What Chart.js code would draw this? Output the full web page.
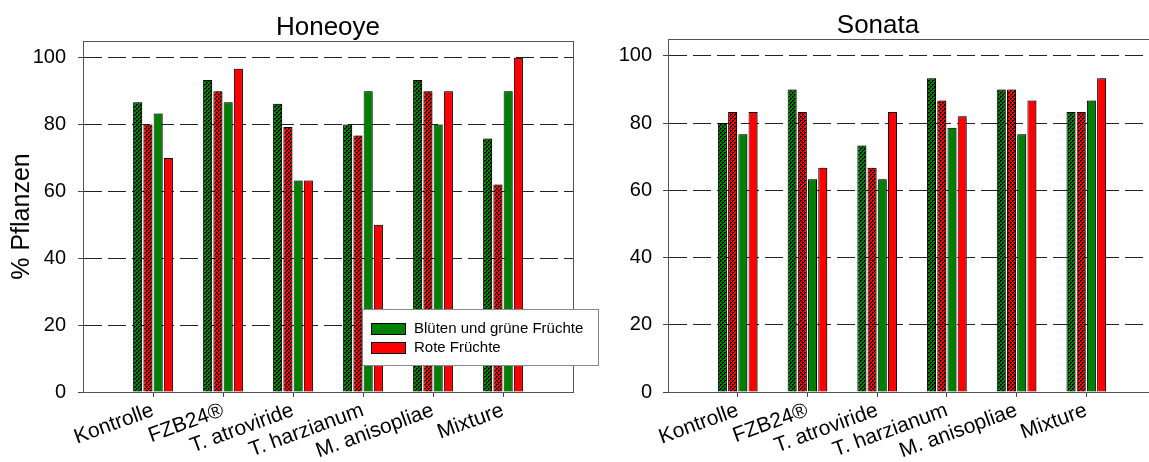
<!DOCTYPE html>
<html>
<head>
<meta charset="utf-8">
<script src="https://cdn.jsdelivr.net/npm/chart.js@4.4.0/dist/chart.umd.min.js"></script>
<style>
  body { margin: 0; background: #fff; width: 1149px; height: 462px; overflow: hidden; position: relative; }
  #honeoye { position: absolute; left: 0; top: 0; }
  #sonata { position: absolute; left: 600px; top: 0; }
</style>
</head>
<body>
<canvas id="honeoye" width="600" height="462"></canvas>
<canvas id="sonata" width="570" height="462"></canvas>
<script>
const categories = ['Kontrolle', 'FZB24®', 'T. atroviride', 'T. harzianum', 'M. anisopliae', 'Mixture'];
const seriesNames = ['Blüten und grüne Früchte', 'Rote Früchte'];
const yTicks = [0, 20, 40, 60, 80, 100];

// Honeoye (hatched = first bar pair, solid = second bar pair)
const honeoyeGreenHatched = [86.7, 93.3, 86.2, 80.0, 93.3, 75.8];
const honeoyeRedHatched   = [80.0, 90.0, 79.3, 76.7, 90.0, 62.1];
const honeoyeGreen        = [83.3, 86.7, 63.3, 90.0, 80.0, 90.0];
const honeoyeRed          = [70.0, 96.7, 63.3, 50.0, 90.0, 100.0];

// Sonata
const sonataGreenHatched = [80.0, 90.0, 73.3, 93.3, 90.0, 83.3];
const sonataRedHatched   = [83.3, 83.3, 66.7, 86.7, 90.0, 83.3];
const sonataGreen        = [76.7, 63.3, 63.3, 78.6, 76.7, 86.7];
const sonataRed          = [83.3, 66.7, 83.3, 82.0, 86.7, 93.3];

const labels = [''].concat(categories, ['']);
const pad = arr => [null].concat(arr, [null]);

Chart.defaults.font.family = "Arial, 'Liberation Sans', sans-serif";
Chart.defaults.color = '#000';

function checker(color) {
  const c = document.createElement('canvas');
  c.width = 4; c.height = 4;
  const g = c.getContext('2d');
  g.fillStyle = color;
  g.fillRect(0, 0, 4, 4);
  g.fillStyle = '#000';
  g.fillRect(0, 0, 2, 1); g.fillRect(0, 1, 1, 1);
  g.fillRect(2, 2, 2, 1); g.fillRect(2, 3, 1, 1);
  return g.createPattern(c, 'repeat');
}

const GREEN = '#008000';
const RED = '#ff0000';

const barShadow = {
  id: 'barShadow',
  beforeDatasetsDraw(chart) {
    const ctx = chart.ctx;
    ctx.save();
    ctx.shadowColor = 'rgba(0,0,0,0.4)';
    ctx.shadowOffsetX = 2;
    ctx.shadowOffsetY = 0;
    ctx.shadowBlur = 0;
  },
  afterDatasetsDraw(chart) {
    chart.ctx.restore();
  }
};

const frame = {
  id: 'frame',
  afterDraw(chart) {
    const { ctx, chartArea: a } = chart;
    ctx.save();
    ctx.strokeStyle = '#555';
    ctx.lineWidth = 1;
    ctx.strokeRect(Math.round(a.left) + 0.5, Math.round(a.top) + 0.5,
      Math.round(a.right - a.left), Math.round(a.bottom - a.top));
    ctx.restore();
  }
};

const boxLegend = {
  id: 'boxLegend',
  afterDraw(chart, args, o) {
    if (!o.show) return;
    const ctx = chart.ctx;
    ctx.save();
    ctx.fillStyle = '#fff';
    ctx.fillRect(o.x, o.y, o.w, o.h);
    ctx.strokeStyle = '#888';
    ctx.strokeRect(o.x + 0.5, o.y + 0.5, o.w, o.h);
    const items = chart.data.datasets.filter(d => d.inLegend);
    ctx.font = "15px Arial, 'Liberation Sans', sans-serif";
    ctx.textBaseline = 'middle';
    items.forEach((d, i) => {
      const sy = o.y + 14 + i * 19;
      ctx.fillStyle = d.backgroundColor;
      ctx.fillRect(o.x + 9, sy, 34, 11);
      ctx.strokeStyle = '#000';
      ctx.strokeRect(o.x + 9.5, sy + 0.5, 34, 11);
      ctx.fillStyle = '#000';
      ctx.fillText(d.label, o.x + 52, sy + 6);
    });
    ctx.restore();
  }
};

function makePanel(canvas, title, values, cfg) {
  const fills = [checker(GREEN), checker(RED), GREEN, RED];
  const names = [seriesNames[0] + ' ', seriesNames[1] + ' ', seriesNames[0], seriesNames[1]];
  const datasets = values.map((v, i) => ({
    label: names[i],
    data: pad(v),
    backgroundColor: fills[i],
    borderColor: '#000',
    borderWidth: 1,
    categoryPercentage: 0.586,
    barPercentage: 0.88,
    inLegend: i >= 2
  }));

  return new Chart(document.getElementById(canvas), {
    type: 'bar',
    data: { labels: labels, datasets: datasets },
    options: {
      responsive: false,
      animation: false,
      layout: { padding: { left: 0, right: cfg.padRight, top: 0, bottom: 0 } },
      plugins: {
        legend: { display: false },
        tooltip: { enabled: false },
        title: {
          display: true,
          text: title,
          fullSize: cfg.titleFull,
          color: '#000',
          font: { size: 26, weight: 'normal', lineHeight: 1 },
          padding: { top: cfg.titleTop, bottom: 0 }
        },
        boxLegend: cfg.legend
      },
      scales: {
        x: {
          type: 'category',
          offset: false,
          grid: {
            offset: false,
            drawOnChartArea: false,
            tickLength: 5,
            tickColor: c => (c.index === 0 || c.index === labels.length - 1) ? 'rgba(0,0,0,0)' : '#444'
          },
          border: { color: '#555' },
          ticks: { autoSkip: false, minRotation: 20, maxRotation: 20, padding: 1, font: { size: 21 }, color: '#000' },
          afterFit: s => { s.height = 70; }
        },
        y: {
          min: 0,
          max: 105,
          afterBuildTicks: s => { s.ticks = yTicks.map(v => ({ value: v })); },
          afterFit: s => { s.width = cfg.yWidth; },
          grid: { color: '#222', tickLength: 5, tickColor: '#444', tickBorderDash: [] },
          border: { color: '#555', dash: [18, 6] },
          ticks: { padding: cfg.tickPad, font: { size: 20 }, color: '#000' },
          title: {
            display: cfg.yTitle,
            text: '% Pflanzen',
            color: '#000',
            font: { size: 25 },
            padding: { top: 7, bottom: 0 }
          }
        }
      }
    },
    plugins: [barShadow, frame, boxLegend]
  });
}

makePanel('honeoye', 'Honeoye',
  [honeoyeGreenHatched, honeoyeRedHatched, honeoyeGreen, honeoyeRed],
  { padRight: 27, titleFull: false, titleTop: 15, yWidth: 83, tickPad: 12, yTitle: true,
    legend: { show: true, x: 362, y: 309, w: 236, h: 56 } });

makePanel('sonata', 'Sonata',
  [sonataGreenHatched, sonataRedHatched, sonataGreen, sonataRed],
  { padRight: 14, titleFull: true, titleTop: 13, yWidth: 68, tickPad: 11, yTitle: false,
    legend: { show: false } });
</script>
</body>
</html>
